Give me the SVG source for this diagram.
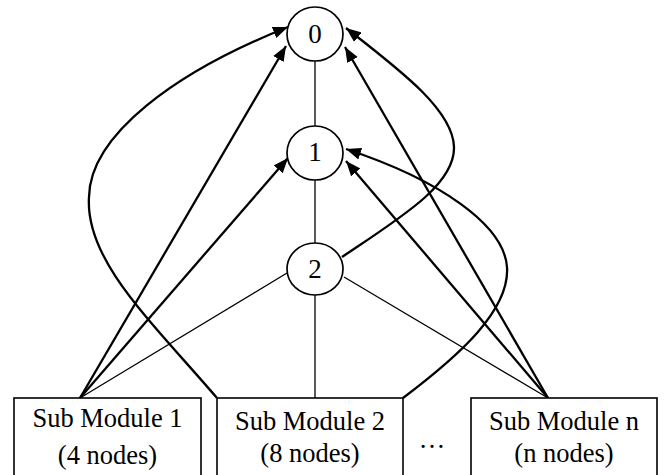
<svg xmlns="http://www.w3.org/2000/svg" width="665" height="475" viewBox="0 0 665 475">
<style>
.node{fill:#fff;stroke:#000;stroke-width:1.7}
.box{fill:#fff;stroke:#000;stroke-width:1.6}
.thin{fill:none;stroke:#000;stroke-width:1.3}
.arr{fill:none;stroke:#000;stroke-width:2.3;marker-end:url(#ah)}
text{font-family:"Liberation Serif","Times New Roman",serif;font-size:26.5px;fill:#000;text-anchor:middle}
.lbl{font-size:27px}
</style>
<defs>
<marker id="ah" markerUnits="userSpaceOnUse" markerWidth="16" markerHeight="13" refX="15" refY="6.5" orient="auto">
<path d="M0,0.5 L15,6.5 L0,12.5 z" fill="#000"/>
</marker>
</defs>
<rect width="665" height="475" fill="#fff"/>
<g id="connectors">
<line class="thin" x1="315" y1="61" x2="315" y2="126"/>
<line class="thin" x1="315" y1="180" x2="315" y2="243"/>
<line class="thin" x1="315" y1="295" x2="315" y2="398"/>
<line class="thin" x1="80" y1="398" x2="287" y2="273"/>
<line class="thin" x1="548" y1="398" x2="344" y2="277"/>
<line class="arr" x1="80" y1="398" x2="286" y2="46"/>
<line class="arr" x1="80" y1="398" x2="288" y2="158"/>
<line class="arr" x1="548" y1="398" x2="345" y2="47"/>
<line class="arr" x1="548" y1="398" x2="346" y2="161"/>
<path class="arr" d="M217,398 C150,320 85,260 89,197 C90,135 175,72 288,27"/>
<path class="arr" d="M342,257 C400,218 455,185 454,147 C453,110 400,70 346,28"/>
<path class="arr" d="M403,398 C460,355 510,310 507,267 C504,225 440,180 346,149"/>
</g>
<g id="node0">
<ellipse class="node" cx="315" cy="34" rx="28" ry="27"/>
<text class="lbl" x="315" y="43">0</text>
</g>
<g id="node1">
<ellipse class="node" cx="315" cy="153" rx="28" ry="27"/>
<text class="lbl" x="315" y="161">1</text>
</g>
<g id="node2">
<ellipse class="node" cx="315" cy="269" rx="28" ry="26"/>
<text class="lbl" x="315" y="278">2</text>
</g>
<g id="sub1">
<rect class="box" x="14" y="398" width="187" height="82"/>
<text x="107.5" y="427">Sub Module 1</text>
<text x="107.5" y="464">(4 nodes)</text>
</g>
<g id="sub2">
<rect class="box" x="217" y="398" width="186" height="82"/>
<text x="310" y="430">Sub Module 2</text>
<text x="310" y="462">(8 nodes)</text>
</g>
<g id="ellipsis">
<text x="432" y="448">…</text>
</g>
<g id="subn">
<rect class="box" x="471" y="398" width="186" height="82"/>
<text x="564" y="430">Sub Module n</text>
<text x="564" y="462">(n nodes)</text>
</g>
</svg>
